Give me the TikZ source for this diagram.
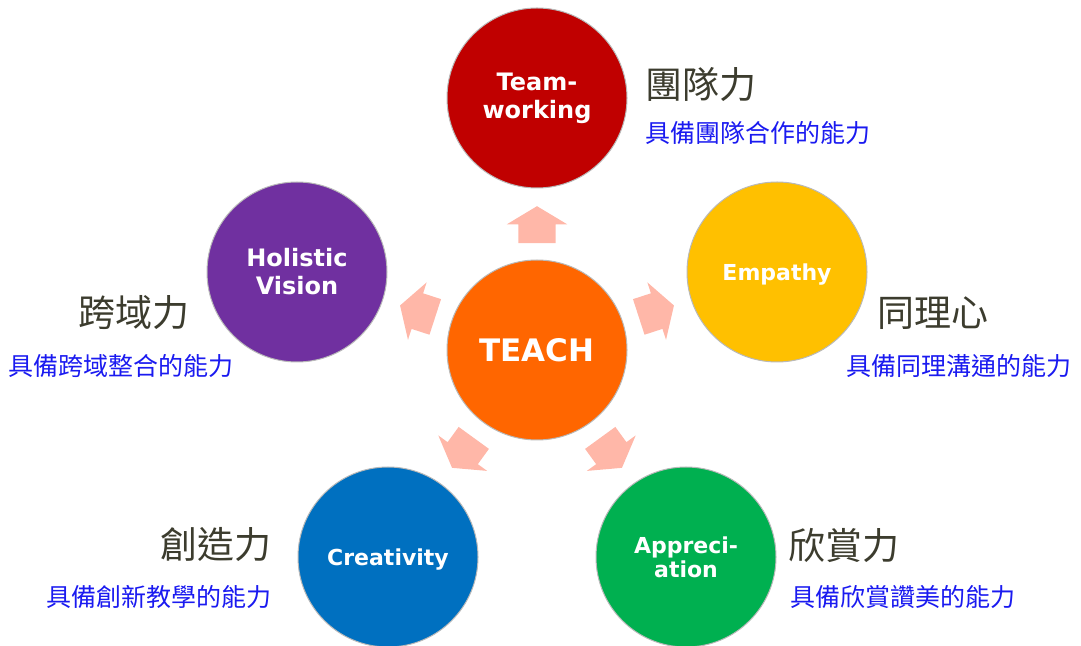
\documentclass[tikz,border=0pt]{standalone}
\usepackage{fontspec}
\usetikzlibrary{calc,shapes.arrows}
\newfontfamily\boldsans{DejaVu Sans Bold}
\newfontfamily\cjk{Noto Sans CJK TC}
\definecolor{teamred}{RGB}{192,0,0}
\definecolor{teachorange}{RGB}{255,102,0}
\definecolor{empyellow}{RGB}{255,192,0}
\definecolor{apprgreen}{RGB}{0,176,80}
\definecolor{creablue}{RGB}{0,112,192}
\definecolor{holipurple}{RGB}{112,48,160}
\definecolor{arrowpink}{RGB}{255,183,168}
\definecolor{headgray}{RGB}{60,60,46}
\definecolor{subblue}{RGB}{26,26,240}

\begin{document}
\begin{tikzpicture}[x=1pt,y=1pt,
	skill_node/.style={circle,draw=gray!55,line width=1pt,minimum size=180pt,inner sep=0pt,
		text=white,align=center,font=\boldsans\fontsize{22}{25}\selectfont},
	link_arrow/.style={single arrow,fill=arrowpink,draw=none,inner xsep=0pt,inner ysep=18.5pt,
		minimum width=0pt,minimum height=37pt,single arrow head extend=11.5pt,
		single arrow tip angle=118},
	head_text/.style={anchor=west,inner sep=0pt,text=headgray,font=\cjk\fontsize{37}{40}\selectfont},
	sub_text/.style={anchor=west,inner sep=0pt,text=subblue,font=\cjk\fontsize{25}{28}\selectfont}]
		
		\useasboundingbox (0,0) rectangle (1081,645);
		
		\node[skill_node,fill=teachorange,font=\boldsans\fontsize{31}{34}\selectfont] (teach) at (537,295) {TEACH};
		\node[skill_node,fill=teamred,font=\boldsans\fontsize{24}{28}\selectfont] (team) at (537,547) {Team-\\working};
		\node[skill_node,fill=empyellow] (empathy) at (777,373) {\raisebox{-3pt}[\height][\depth]{Empathy}};
		\node[skill_node,fill=apprgreen,font=\boldsans\fontsize{22}{24}\selectfont] (appr) at (686,88) {Appreci-\\ation};
		\node[skill_node,fill=creablue] (crea) at (388,88) {\raisebox{-3pt}[\height][\depth]{Creativity}};
		\node[skill_node,fill=holipurple,font=\boldsans\fontsize{24}{28}\selectfont] (holi) at (297,373) {Holistic\\Vision};
		
		\node[link_arrow,rotate=90] (a1) at ($(teach)!0.475!(team)$) {};
		\node[link_arrow,rotate=18] (a2) at ($(teach)!0.475!(empathy)$) {};
		\node[link_arrow,rotate=-54] (a3) at ($(teach)!0.475!(appr)$) {};
		\node[link_arrow,rotate=-126] (a4) at ($(teach)!0.475!(crea)$) {};
		\node[link_arrow,rotate=162] (a5) at ($(teach)!0.475!(holi)$) {};
		
		\node[head_text] (team_h) at (645,560) {團隊力};
		\node[sub_text] (team_s) at (645,512) {具備團隊合作的能力};
		\node[head_text] (holi_h) at (78,332) {跨域力};
		\node[sub_text] (holi_s) at (8,279) {具備跨域整合的能力};
		\node[head_text] (emp_h) at (877,332) {同理心};
		\node[sub_text] (emp_s) at (846,279) {具備同理溝通的能力};
		\node[head_text] (crea_h) at (160,100) {創造力};
		\node[sub_text] (crea_s) at (46,48) {具備創新教學的能力};
		\node[head_text] (appr_h) at (788,100) {欣賞力};
		\node[sub_text] (appr_s) at (790,48) {具備欣賞讚美的能力};
		\end{tikzpicture}
\end{document}
